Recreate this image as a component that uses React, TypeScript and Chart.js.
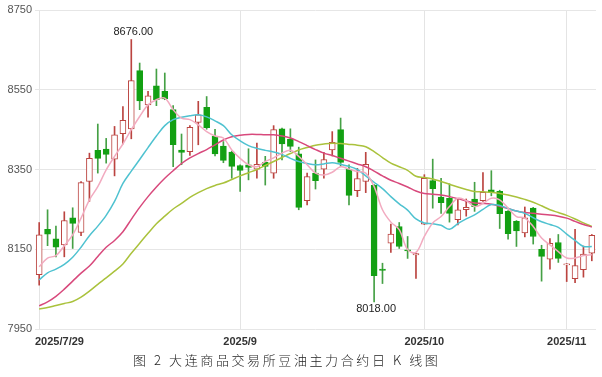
import React, { useEffect, useRef } from 'react';
import { Chart, registerables } from 'chart.js';

Chart.register(...registerables);

// ---- data ----
const dates = [
  '2025-07-29', '2025-07-30', '2025-07-31', '2025-08-01',
  '2025-08-04', '2025-08-05', '2025-08-06', '2025-08-07', '2025-08-08',
  '2025-08-11', '2025-08-12', '2025-08-13', '2025-08-14', '2025-08-15',
  '2025-08-18', '2025-08-19', '2025-08-20', '2025-08-21', '2025-08-22',
  '2025-08-25', '2025-08-26', '2025-08-27', '2025-08-28', '2025-08-29',
  '2025-09-01', '2025-09-02', '2025-09-03', '2025-09-04', '2025-09-05',
  '2025-09-08', '2025-09-09', '2025-09-10', '2025-09-11', '2025-09-12',
  '2025-09-15', '2025-09-16', '2025-09-17', '2025-09-18', '2025-09-19',
  '2025-09-22', '2025-09-23', '2025-09-24', '2025-09-25', '2025-09-26',
  '2025-09-29', '2025-09-30',
  '2025-10-09', '2025-10-10',
  '2025-10-13', '2025-10-14', '2025-10-15', '2025-10-16', '2025-10-17',
  '2025-10-20', '2025-10-21', '2025-10-22', '2025-10-23', '2025-10-24',
  '2025-10-27', '2025-10-28', '2025-10-29', '2025-10-30', '2025-10-31',
  '2025-11-03', '2025-11-04', '2025-11-05', '2025-11-06',
];

const openP = [
  8086, 8200, 8176, 8161, 8229, 8192, 8320, 8398, 8401, 8376,
  8440, 8452, 8598, 8512, 8560, 8546, 8500, 8399, 8395, 8468,
  8506, 8433, 8409, 8394, 8360, 8362, 8351, 8368, 8341, 8452,
  8426, 8389, 8272, 8341, 8351, 8399, 8450, 8351, 8297, 8320,
  8310, 8100, 8165, 8207, 8148, 8136, 8213, 8322, 8281, 8278,
  8224, 8249, 8276, 8272, 8299, 8295, 8245, 8220, 8191, 8253,
  8150, 8125, 8167, 8111, 8076, 8099, 8140,
];
const highP = [
  8217, 8249, 8208, 8244, 8254, 8320, 8391, 8464, 8428, 8458,
  8508, 8676, 8617, 8546, 8602, 8592, 8510, 8439, 8460, 8521,
  8533, 8451, 8420, 8396, 8362, 8402, 8416, 8383, 8460, 8454,
  8452, 8406, 8341, 8374, 8393, 8445, 8479, 8362, 8353, 8393,
  8312, 8115, 8213, 8217, 8182, 8140, 8337, 8376, 8328, 8314,
  8276, 8276, 8318, 8342, 8347, 8298, 8247, 8222, 8256, 8255,
  8160, 8177, 8187, 8114, 8200, 8158, 8187,
];
const lowP = [
  8060, 8159, 8131, 8131, 8152, 8184, 8270, 8341, 8366, 8334,
  8414, 8427, 8500, 8481, 8510, 8525, 8357, 8362, 8385, 8412,
  8451, 8384, 8367, 8328, 8295, 8324, 8328, 8311, 8328, 8374,
  8395, 8249, 8261, 8301, 8328, 8384, 8358, 8261, 8282, 8292,
  8018, 8064, 8142, 8152, 8127, 8077, 8212, 8253, 8240, 8218,
  8211, 8233, 8245, 8270, 8284, 8202, 8175, 8157, 8181, 8163,
  8070, 8100, 8117, 8069, 8066, 8080, 8121,
];
const closeP = [
  8186, 8188, 8155, 8222, 8215, 8317, 8378, 8378, 8388, 8437,
  8473, 8573, 8522, 8535, 8525, 8527, 8412, 8393, 8456, 8487,
  8455, 8389, 8373, 8358, 8348, 8355, 8363, 8358, 8450, 8414,
  8408, 8255, 8332, 8322, 8375, 8418, 8368, 8285, 8327, 8363,
  8084, 8097, 8188, 8157, 8146, 8139, 8328, 8302, 8267, 8240,
  8249, 8255, 8257, 8293, 8292, 8239, 8189, 8196, 8229, 8182,
  8132, 8165, 8127, 8113, 8109, 8138, 8185,
];

const ma5 = [
  8106, 8128, 8134, 8159, 8186, 8228, 8274, 8307, 8349, 8383,
  8414, 8450, 8483, 8512, 8525, 8529, 8500, 8479, 8475, 8462,
  8445, 8434, 8429, 8399, 8378, 8362, 8357, 8370, 8379, 8391,
  8398, 8383, 8362, 8341, 8336, 8343, 8357, 8351, 8345, 8341,
  8307, 8249, 8218, 8199, 8149, 8142, 8182, 8216, 8232, 8257,
  8278, 8272, 8257, 8265, 8278, 8274, 8253, 8232, 8228, 8207,
  8178, 8161, 8144, 8128, 8128, 8134, 8136,
];
const ma10 = [
  8073, 8091, 8100, 8112, 8130, 8155, 8184, 8208, 8235, 8270,
  8315, 8346, 8375, 8405, 8434, 8460, 8475, 8481, 8485, 8487,
  8482, 8472, 8460, 8437, 8422, 8410, 8403, 8398, 8394, 8388,
  8378, 8370, 8365, 8362, 8364, 8367, 8363, 8358, 8350, 8334,
  8318, 8302, 8282, 8264, 8248, 8226, 8216, 8214, 8210, 8200,
  8214, 8226, 8236, 8250, 8262, 8260, 8252, 8246, 8240, 8229,
  8219, 8212, 8205, 8188, 8172, 8157, 8157,
];
const ma20 = [
  8008, 8018, 8032, 8050, 8070, 8090, 8108, 8132, 8155, 8172,
  8194, 8225, 8255, 8282, 8306, 8328, 8347, 8365, 8379, 8390,
  8400, 8412, 8424, 8432, 8436, 8438, 8438, 8437, 8437, 8434,
  8429, 8420, 8410, 8400, 8391, 8385, 8378, 8371, 8364, 8357,
  8346, 8334, 8323, 8315, 8306, 8296, 8290, 8288, 8286, 8282,
  8277, 8271, 8266, 8265, 8263, 8258, 8252, 8246, 8242, 8240,
  8238, 8236, 8233, 8228, 8220, 8212, 8206,
];
const ma60 = [
  8000, 8004, 8009, 8014, 8019, 8030, 8045, 8062, 8078, 8095,
  8113, 8140, 8165, 8190, 8214, 8233, 8251, 8265, 8280, 8292,
  8302, 8310, 8316, 8325, 8334, 8342, 8350, 8360, 8370, 8380,
  8390, 8399, 8405, 8411, 8414, 8416, 8415, 8413, 8411, 8407,
  8395, 8380, 8366, 8357, 8348, 8333, 8330, 8326, 8320, 8313,
  8306, 8300, 8295, 8294, 8293, 8290, 8286, 8281, 8275, 8268,
  8259, 8249, 8242, 8235, 8226, 8216, 8207,
];

const tickDates = ['2025-07-29', '2025-09-01', '2025-10-09', '2025-11-03'];
const tickTexts = ['2025/7/29', '2025/9', '2025/10', '2025/11'];
const yMin = 7950;
const yMax = 8750;
const yStep = 200;
const titleText = '图 2 大连商品交易所豆油主力合约日 K 线图';

const RED = '#bb4440';
const GREEN = '#12a012';
const GREEN_WICK = '#45a045';

const labelPlugin = {
  id: 'klabels',
  afterDraw(chart: any) {
    const { ctx, scales, chartArea } = chart;
    const x = scales.x;
    const y = scales.y;
    ctx.save();
    ctx.font = 'bold 11px "Liberation Sans", Arial, sans-serif';
    ctx.fillStyle = '#333';
    ctx.textBaseline = 'middle';
    ctx.textAlign = 'left';
    tickDates.forEach((d, k) => {
      const idx = dates.indexOf(d);
      const px = x.getPixelForValue(idx);
      const w = ctx.measureText(tickTexts[k]).width;
      let left = px - w / 2;
      if (left < chartArea.left) left = chartArea.left;
      if (left + w > chart.width - 2) left = chart.width - 2 - w;
      ctx.fillText(tickTexts[k], left, chartArea.bottom + 13);
    });
    const hi = Math.max(...highP);
    const hiIdx = highP.indexOf(hi);
    const lo = Math.min(...lowP);
    const loIdx = lowP.indexOf(lo);
    ctx.font = '11px "Liberation Sans", Arial, sans-serif';
    ctx.fillStyle = '#222';
    ctx.textAlign = 'center';
    ctx.textBaseline = 'bottom';
    ctx.fillText(hi.toFixed(2), x.getPixelForValue(hiIdx) + 2, y.getPixelForValue(hi) - 2);
    ctx.textBaseline = 'top';
    ctx.fillText(lo.toFixed(2), x.getPixelForValue(loIdx) + 2, y.getPixelForValue(lo) + 2);
    ctx.restore();
  },
};

export default function App() {
  const ref = useRef<HTMLCanvasElement>(null);

  useEffect(() => {
    const up = closeP.map((c, i) => c >= openP[i]);
    const bodies = openP.map((o, i) => [o, closeP[i]]);
    const wicks = lowP.map((l, i) => [l, highP[i]]);
    const tickIdx = tickDates.map((d) => dates.indexOf(d));

    const lineDs = (label: string, data: number[], color: string) => ({
      type: 'line' as const,
      label,
      data,
      borderColor: color,
      backgroundColor: color,
      borderWidth: 1.5,
      pointRadius: 0,
      tension: 0.35,
      fill: false,
      order: 0,
    });

    const chart = new Chart(ref.current as HTMLCanvasElement, {
      type: 'bar',
      data: {
        labels: dates,
        datasets: [
          lineDs('MA5', ma5, '#f2abc0'),
          lineDs('MA10', ma10, '#4fc2d0'),
          lineDs('MA20', ma20, '#d8497c'),
          lineDs('MA60', ma60, '#aac23c'),
          {
            label: 'body',
            data: bodies as any,
            backgroundColor: up.map((u) => (u ? '#ffffff' : GREEN)),
            borderColor: up.map((u) => (u ? RED : GREEN)),
            borderWidth: 1,
            borderSkipped: false,
            barThickness: 6,
            minBarLength: 1,
            grouped: false,
            order: 1,
          } as any,
          {
            label: 'wick',
            data: wicks as any,
            backgroundColor: up.map((u) => (u ? RED : GREEN_WICK)),
            borderWidth: 0,
            barThickness: 1,
            grouped: false,
            order: 2,
          } as any,
        ],
      },
      options: {
        animation: false,
        responsive: false,
        devicePixelRatio: 1,
        layout: { padding: { top: 10, right: 6, left: 0, bottom: 0 } },
        plugins: {
          legend: { display: false },
          tooltip: { enabled: false },
          title: { display: false },
        },
        scales: {
          x: {
            type: 'category',
            offset: true,
            grid: {
              offset: false,
              drawTicks: false,
              color: (ctx: any) => (tickIdx.includes(ctx.index) ? '#e4e4e4' : 'rgba(0,0,0,0)'),
              lineWidth: 1,
            },
            border: { display: false },
            ticks: { display: false, autoSkip: false },
            afterFit: (s: any) => {
              s.height = 48;
            },
          },
          y: {
            min: yMin,
            max: yMax,
            grid: { color: '#e6e6e6', drawTicks: false },
            border: { display: false },
            ticks: {
              stepSize: yStep,
              color: '#555',
              padding: 3,
              font: { family: '"Liberation Sans", Arial, sans-serif', size: 11 },
              callback: (v: any) => String(v),
            },
            afterFit: (s: any) => {
              s.width = 35;
            },
          },
        },
      } as any,
      plugins: [labelPlugin],
    });
    return () => chart.destroy();
  }, []);

  return (
    <div style={{ position: 'fixed', left: 0, top: 0, width: 602, height: 377, background: '#fff' }}>
      <canvas ref={ref} width={602} height={377} style={{ display: 'block' }} />
      <div
        style={{
          position: 'absolute',
          left: 133,
          top: 351,
          whiteSpace: 'nowrap',
          fontFamily: '"Noto Sans CJK SC", sans-serif',
          fontSize: 13,
          fontWeight: 300,
          letterSpacing: 2.6,
          color: '#222',
          lineHeight: '18px',
        }}
      >
        {titleText}
      </div>
    </div>
  );
}
